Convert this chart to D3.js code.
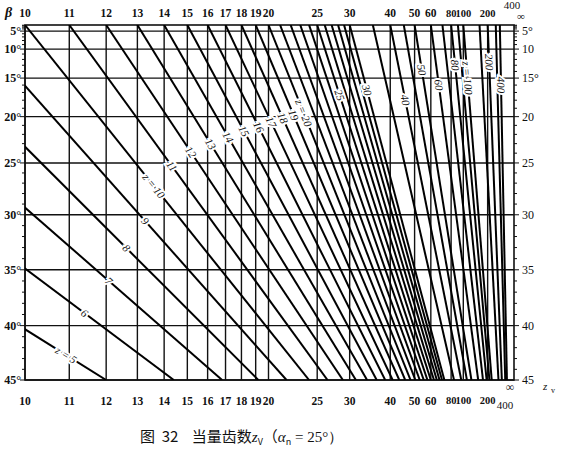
<!DOCTYPE html>
<html><head><meta charset="utf-8">
<script src="https://d3js.org/d3.v7.min.js"></script>
<style>body{margin:0;background:#fff}text{font-family:"Liberation Serif","DejaVu Serif",serif;fill:#111}</style>
</head><body><svg id="c" width="561" height="451"></svg>
<script>
// 齿数 z 线
const zLines = [5,6,7,8,9,10,11,12,13,14,15,16,17,18,19,20,21,22,23,24,25,26,27,28,29,30,35,40,45,50,60,70,80,90,100,150,200,300,400];
const xTicks = [10,11,12,13,14,15,16,17,18,19,20,25,30,40,50,60,80,100,200];
const betaTicks = [5,10,15,20,25,30,35,40,45];
// etiket: [z, yazı, y piksel]
const zLabels = [[5,"z = 5",355],[6,"6",313],[7,"7",281],[8,"8",248],[9,"9",221],[10,"z = 10",186],[11,"11",166],
  [12,"12",152],[13,"13",144],[14,"14",137],[15,"15",131],[16,"16",127],[17,"17",122],[18,"18",118],[19,"19",115],[20,"z = 20",113],
  [25,"25",95],[30,"30",90],[40,"40",100],[50,"50",70],[60,"60",85],[80,"80",65],[100,"z = 100",78],[200,"200",62],[400,"400",85]];

const an = 25*Math.PI/180;
function f(bDeg){   // cos²βb·cosβ
  const b = bDeg*Math.PI/180;
  const at = Math.atan(Math.tan(an)/Math.cos(b));
  const bb = Math.atan(Math.tan(b)*Math.cos(at));
  return Math.cos(bb)**2*Math.cos(b);
}
const L=25, R=514, T=25, B=380;
const x = d3.scaleLinear().domain([0.1,0]).range([L,512]);   // 1/zv
const y = d3.scaleLinear().domain([1,f(45)]).range([T,B]);   // f(β)
const svg = d3.select("#c");
const plot = svg.append("g");
svg.append("clipPath").attr("id","clip").append("rect").attr("x",L).attr("y",T).attr("width",R-L).attr("height",B-T);

// ızgara
plot.selectAll(".v").data(xTicks).join("line").attr("x1",d=>x(1/d)).attr("x2",d=>x(1/d)).attr("y1",T).attr("y2",B)
  .attr("stroke","#111").attr("stroke-width",1.4);
plot.selectAll(".h").data(betaTicks).join("line").attr("x1",L).attr("x2",R).attr("y1",d=>y(f(d))).attr("y2",d=>y(f(d)))
  .attr("stroke","#111").attr("stroke-width",1.4);
plot.append("rect").attr("x",L).attr("y",T).attr("width",R-L).attr("height",B-T).attr("fill","none").attr("stroke","#111").attr("stroke-width",1.6);

// küçük işaretler
const minor = d3.range(1,46);
[[L,-1],[R,1]].forEach(([px,s])=>{
  svg.selectAll(null).data(minor).join("line").attr("x1",px).attr("x2",d=>px+s*(d%5==0?5:3))
    .attr("y1",d=>y(f(d))).attr("y2",d=>y(f(d))).attr("stroke","#111");
});

// z çizgileri
const lg = plot.append("g").attr("clip-path","url(#clip)");
lg.selectAll("line").data(zLines).join("line")
  .attr("x1",z=>x(1/z)).attr("y1",y(1)).attr("x2",z=>x(f(45)/z)).attr("y2",y(f(45)))
  .attr("stroke","#000").attr("stroke-width",2);

// etiketler
svg.selectAll(".zl").data(zLabels).join("text")
  .attr("transform",d=>{const fv=y.invert(d[2]);const ang=Math.atan(608*d[0]/4870)*180/Math.PI;
    return `translate(${x(fv/d[0])},${d[2]}) rotate(${ang})`;})
  .attr("text-anchor","middle").attr("dy","0.35em").attr("font-size",11).attr("font-style","italic")
  .attr("stroke","#fff").attr("stroke-width",4).attr("paint-order","stroke").text(d=>d[1]);

// eksen yazıları
[[17,"auto"],[397,"hanging"]].forEach(([py,bl])=>{
  svg.selectAll(null).data(xTicks).join("text").attr("x",d=>x(1/d)).attr("y",py)
    .attr("text-anchor","middle").attr("font-size",d=>d>=80?10.5:11.5).attr("font-weight","bold").attr("dominant-baseline",bl).text(d=>d);
});
svg.append("text").attr("x",5).attr("y",17).attr("font-size",14).attr("font-weight","bold").attr("font-style","italic").text("β");
svg.append("text").attr("x",512).attr("y",9).attr("font-size",11).attr("text-anchor","middle").text("400");
svg.append("text").attr("x",521).attr("y",20).attr("font-size",11).attr("text-anchor","middle").text("∞");
svg.append("text").attr("x",510).attr("y",391).attr("font-size",12).attr("text-anchor","middle").text("∞");
svg.append("text").attr("x",505).attr("y",409).attr("font-size",11).attr("text-anchor","middle").text("400");
svg.append("text").attr("x",543).attr("y",390).attr("font-size",11).attr("font-style","italic").text("z");
svg.append("text").attr("x",551).attr("y",393).attr("font-size",8).text("v");
svg.selectAll(".ly").data(betaTicks).join("text").attr("x",L-4).attr("y",d=>y(f(d))).attr("dy","0.35em")
  .attr("text-anchor","end").attr("font-size",12).attr("font-weight","bold").text(d=>d+"°");
svg.selectAll(".ry").data(betaTicks).join("text").attr("x",R+8).attr("y",d=>y(f(d))).attr("dy","0.35em")
  .attr("font-size",12).text(d=>d+(d%10==5&&d<20?"°":""));

// başlık
const cap = svg.append("text").attr("x",140).attr("y",442).attr("font-size",15)
  .style("white-space","pre").style("font-family","'Noto Sans CJK SC',sans-serif");
cap.append("tspan").text("图  32    当量齿数");
cap.append("tspan").attr("font-style","italic").style("font-family","'Liberation Serif',serif").text("z");
cap.append("tspan").attr("font-size",9).attr("dy",3).text("V");
cap.append("tspan").attr("dy",-3).text("（");
cap.append("tspan").attr("font-style","italic").style("font-family","'Liberation Serif',serif").text("α");
cap.append("tspan").attr("font-size",9).attr("dy",3).text("n");
cap.append("tspan").attr("dy",-3).style("font-family","'Liberation Serif',serif").text(" = 25°）");
</script></body></html>
